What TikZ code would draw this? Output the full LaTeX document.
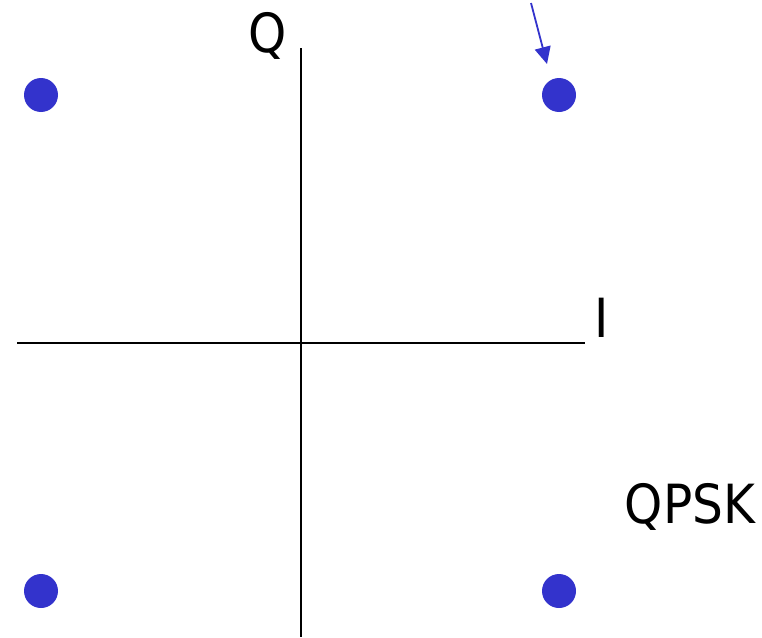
\documentclass[tikz,border=0pt]{standalone}
\usepackage{fontspec}
\setmainfont{DejaVu Sans Condensed}
\usetikzlibrary{arrows.meta}
\definecolor{dotblue}{HTML}{3333CC}
\begin{document}
\begin{tikzpicture}[x=1pt,y=-1pt,
  axis/.style={line width=1.6pt,black},
  pt/.style={circle,fill=dotblue,minimum size=34pt,inner sep=0pt},
  lbl/.style={font=\fontsize{54}{62}\selectfont,inner sep=0pt,anchor=base}]
\useasboundingbox (0,0) rectangle (762,637);
\coordinate (hl) at (17,343);
\coordinate (hr) at (585,343);
\coordinate (vt) at (301,48);
\coordinate (vb) at (301,637);
\draw[axis] (hl) -- (hr);
\draw[axis] (vt) -- (vb);
\node[pt] (p1) at (41,95) {};
\node[pt] (p2) at (559,95) {};
\node[pt] (p3) at (41,591) {};
\node[pt] (p4) at (559,591) {};
\node[lbl] (q) at (268,52) {Q};
\node[lbl] (i) at (602,337) {I};
\node[lbl] (qpsk) at (690,523) {QPSK};
\coordinate (as) at (531,3);
\coordinate (ae) at (547,64);
\draw[dotblue,line width=1.8pt,-{Triangle[length=17pt,width=16pt]}] (as) -- (ae);
\end{tikzpicture}
\end{document}
